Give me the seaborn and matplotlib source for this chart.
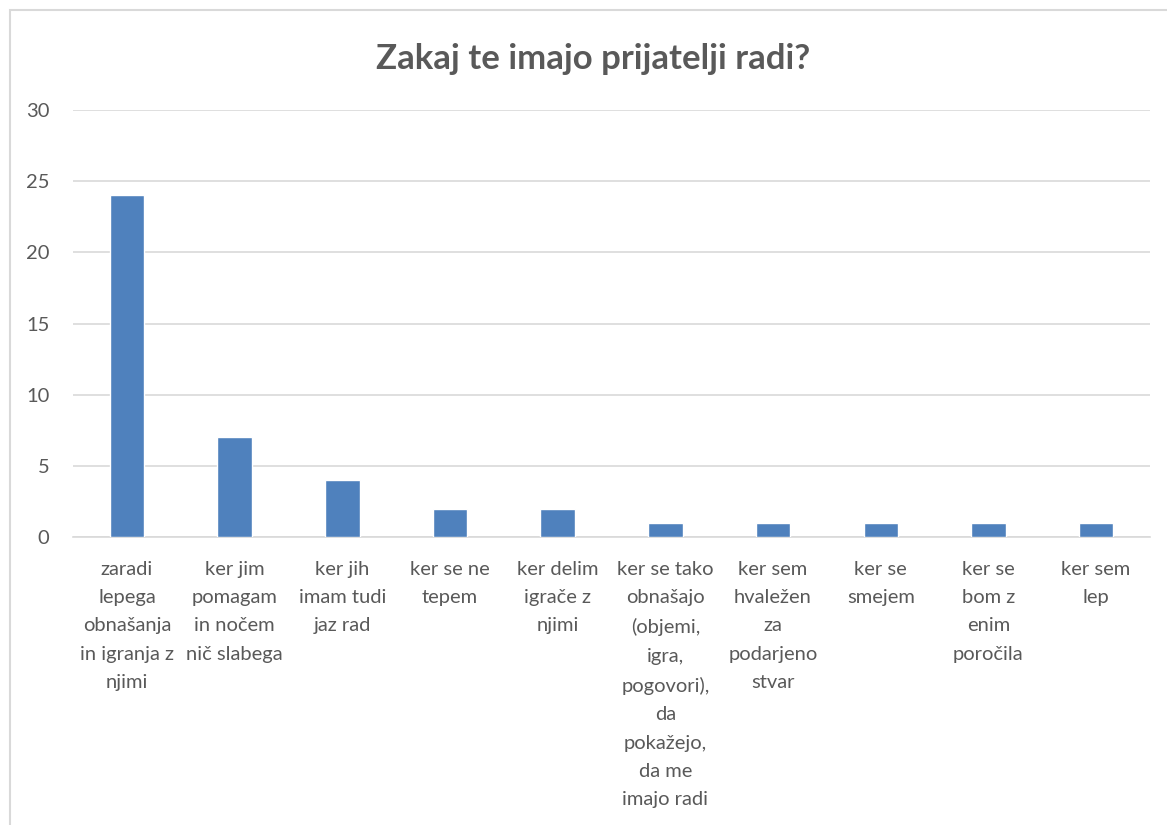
import matplotlib
matplotlib.use("Agg")
import matplotlib.pyplot as plt
from matplotlib.patches import Rectangle
import seaborn as sns
import pandas as pd

# --- data ---
categories = [
    "zaradi\nlepega\nobnašanja\nin igranja z\nnjimi",
    "ker jim\npomagam\nin nočem\nnič slabega",
    "ker jih\nimam tudi\njaz rad",
    "ker se ne\ntepem",
    "ker delim\nigrače z\nnjimi",
    "ker se tako\nobnašajo\n(objemi,\nigra,\npogovori),\nda\npokažejo,\nda me\nimajo radi",
    "ker sem\nhvaležen\nza\npodarjeno\nstvar",
    "ker se\nsmejem",
    "ker se\nbom z\nenim\nporočila",
    "ker sem\nlep",
]
counts = [24, 7, 4, 2, 2, 1, 1, 1, 1, 1]
yticks = [0, 5, 10, 15, 20, 25, 30]

TEXT = "#595959"
GRID = "#d9d9d9"
BAR = "#4f81bd"

sns.set_theme(style="white")
plt.rcParams["font.family"] = ["Lato", "DejaVu Sans"]

df = pd.DataFrame({"odgovor": categories, "stevilo": counts})

fig = plt.figure(figsize=(11.67, 8.25), dpi=100)
fig.patch.set_facecolor("white")
ax = fig.add_axes([0.0626, 0.349, 0.9228, 0.5177])

sns.barplot(data=df, x="odgovor", y="stevilo", color=BAR, width=0.32,
            saturation=1, ax=ax, zorder=3)

ax.set_ylim(0, 30)
ax.set_yticks(yticks)
ax.set_xlim(-0.5, len(categories) - 0.5)
ax.grid(axis="y", color=GRID, linewidth=1.2, zorder=0)
for s in ["top", "right", "left"]:
    ax.spines[s].set_visible(False)
ax.spines["bottom"].set_color(GRID)
ax.spines["bottom"].set_linewidth(1.2)
ax.tick_params(axis="y", length=0, colors=TEXT, labelsize=14.5, pad=17)
ax.tick_params(axis="x", length=0, colors=TEXT, labelsize=14.5, pad=17)
ax.set_xlabel("")
ax.set_ylabel("")
for lbl in ax.get_xticklabels():
    lbl.set_linespacing(1.81)
    lbl.set_verticalalignment("top")

fig.text(0.508, 0.928, "Zakaj te imajo prijatelji radi?", ha="center",
         va="center", fontsize=25, fontweight="bold", color=TEXT)

# chart frame, cut off at right and bottom like the screenshot
fig.patches.append(Rectangle((10 / 1167, -0.1), 1.2, (815 / 825) + 0.1,
                             transform=fig.transFigure, fill=False,
                             edgecolor=GRID, linewidth=1.5))

fig.savefig("out.png", dpi=100)
